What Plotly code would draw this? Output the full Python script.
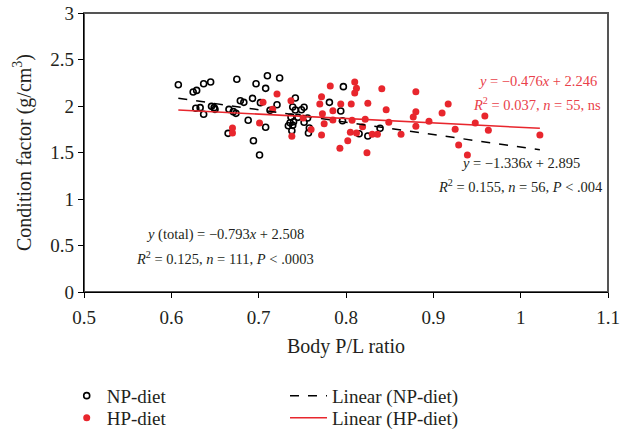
import plotly.graph_objects as go

# NP-diet (open black circles)
np_x = [0.608, 0.625, 0.629, 0.637, 0.645, 0.628, 0.633, 0.637, 0.646, 0.649, 0.650,
        0.675, 0.666, 0.671, 0.674, 0.679, 0.683, 0.665, 0.688, 0.693, 0.697, 0.710,
        0.724, 0.708, 0.702, 0.694, 0.701, 0.708, 0.713, 0.721, 0.742, 0.739, 0.742,
        0.749, 0.752, 0.737, 0.745, 0.756, 0.736, 0.740, 0.734, 0.739, 0.752, 0.738,
        0.757, 0.758, 0.797, 0.781, 0.794, 0.796, 0.815, 0.825, 0.839]
np_y = [2.229, 2.151, 2.168, 2.240, 2.258, 1.975, 1.982, 1.911, 1.996, 1.982, 1.964,
        2.287, 1.964, 1.939, 1.921, 2.057, 2.039, 1.706, 1.846, 2.082, 2.240, 2.326,
        2.301, 2.190, 2.036, 1.627, 1.473, 1.771, 1.953, 2.014, 2.086, 1.989, 1.957,
        1.960, 1.986, 1.882, 1.878, 1.871, 1.820, 1.831, 1.788, 1.792, 1.825, 1.734,
        1.710, 1.763, 2.208, 2.039, 1.946, 1.842, 1.702, 1.677, 1.760]

# HP-diet (filled red circles)
hp_x = [0.705, 0.721, 0.737, 0.716, 0.701, 0.670, 0.670, 0.738, 0.751, 0.760,
        0.782, 0.772, 0.770, 0.773, 0.775, 0.772, 0.785, 0.785, 0.794, 0.806,
        0.810, 0.812, 0.810, 0.825, 0.807, 0.822, 0.819, 0.805, 0.812, 0.802,
        0.793, 0.824, 0.830, 0.836, 0.841, 0.846, 0.849, 0.863, 0.880, 0.880,
        0.877, 0.880, 0.895, 0.910, 0.917, 0.925, 0.929, 0.939, 0.948, 0.959,
        0.963, 1.022]
hp_y = [2.040, 2.129, 2.057, 1.964, 1.817, 1.763, 1.710, 1.674, 1.871, 1.746,
        2.215, 2.100, 2.022, 1.918, 1.810, 1.688, 1.950, 1.849, 2.022, 2.022,
        2.258, 2.190, 2.140, 2.029, 1.846, 1.857, 1.778, 1.717, 1.710, 1.627,
        1.545, 1.498, 1.696, 1.696, 2.186, 1.960, 1.824, 1.696, 2.154, 1.939,
        1.882, 1.781, 1.835, 1.925, 2.022, 1.749, 1.581, 1.473, 1.817, 1.892,
        1.738, 1.688]

# Fitted linear trend coefficients (from the chart's equations)
np_fit = [-1.336, 2.895]
hp_fit = [-0.476, 2.246]
fit_x = [0.608, 1.022]

x_ticks = [0.5, 0.6, 0.7, 0.8, 0.9, 1, 1.1]
x_tick_labels = ["0.5", "0.6", "0.7", "0.8", "0.9", "1", "1.1"]
y_ticks = [0, 0.5, 1, 1.5, 2, 2.5, 3]
y_tick_labels = ["0", "0.5", "1", "1.5", "2", "2.5", "3"]

RED = "#e8262d"
RED_TXT = "#e9414a"
TXT = "#231f20"
FONT = "Liberation Serif"

fig = go.Figure()
fig.add_trace(go.Scatter(x=np_x, y=np_y, mode="markers", name="NP-diet",
                         marker=dict(symbol="circle-open", size=6, color="black",
                                     line=dict(width=1.6, color="black")),
                         legend="legend"))
fig.add_trace(go.Scatter(x=hp_x, y=hp_y, mode="markers", name="HP-diet",
                         marker=dict(symbol="circle", size=7, color=RED),
                         legend="legend2"))
fig.add_trace(go.Scatter(x=fit_x, y=[np_fit[0] * v + np_fit[1] for v in fit_x],
                         mode="lines", name="Linear (NP-diet)",
                         line=dict(color="black", width=1.5, dash="dash"),
                         legend="legend3"))
fig.add_trace(go.Scatter(x=fit_x, y=[hp_fit[0] * v + hp_fit[1] for v in fit_x],
                         mode="lines", name="Linear (HP-diet)",
                         line=dict(color=RED, width=1.5),
                         legend="legend4"))

ann_font = dict(family=FONT, size=14.5)
anns = [
    (1.019, 2.27, "<i>y</i> = −0.476<i>x</i> + 2.246", RED_TXT),
    (1.019, 2.02, "<i>R</i><sup>2</sup> = 0.037, <i>n</i> = 55, ns", RED_TXT),
    (1.000, 1.39, "<i>y</i> = −1.336<i>x</i> + 2.895", TXT),
    (1.000, 1.14, "<i>R</i><sup>2</sup> = 0.155, <i>n</i> = 56, <i>P</i> < .004", TXT),
    (0.6615, 0.613, "<i>y</i> (total) = −0.793<i>x</i> + 2.508", TXT),
    (0.6615, 0.366, "<i>R</i><sup>2</sup> = 0.125, <i>n</i> = 111, <i>P</i> < .0003", TXT),
]
for ax, ay, t, c in anns:
    fig.add_annotation(x=ax, y=ay, xref="x", yref="y", text=t, showarrow=False,
                       xanchor="center", yanchor="middle",
                       font=dict(color=c, **ann_font))

# gray frame (top/right), black axes drawn over left/bottom
fig.add_shape(type="rect", xref="paper", yref="paper", x0=0, y0=0, x1=1, y1=1,
              line=dict(color="#555555", width=2), layer="below")

leg_font = dict(size=19, family=FONT, color=TXT)


def leg(x, y, iw=30):
    return dict(x=x, y=y, xanchor="left", yanchor="middle", orientation="v",
                bgcolor="rgba(0,0,0,0)", font=leg_font, tracegroupgap=0,
                itemwidth=iw)


fig.update_layout(
    width=628, height=435,
    margin=dict(l=84, r=20, t=13, b=143, autoexpand=False),
    paper_bgcolor="white", plot_bgcolor="white",
    font=dict(family=FONT, color=TXT, size=18),
    showlegend=True,
    xaxis=dict(range=[0.5, 1.1], tickvals=x_ticks, ticktext=x_tick_labels,
               showgrid=False, zeroline=False, showline=True, linecolor="black",
               linewidth=1.2, ticks="outside", ticklen=5, tickcolor="black",
               ticklabelstandoff=3,
               tickfont=dict(size=19, family=FONT, color=TXT),
               title=dict(text="Body P/L ratio", font=dict(size=20, family=FONT, color=TXT),
                          standoff=12)),
    yaxis=dict(range=[0, 3], tickvals=y_ticks, ticktext=y_tick_labels,
               showgrid=False, zeroline=False, showline=True, linecolor="black",
               linewidth=1.2, ticks="outside", ticklen=5, tickcolor="black",
               tickfont=dict(size=19, family=FONT, color=TXT),
               title=dict(text="Condition factor (g/cm<sup>3</sup>)",
                          font=dict(size=20, family=FONT, color=TXT), standoff=13)),
    legend=leg(-0.033, -0.372),
    legend2=leg(-0.033, -0.451),
    legend3=leg(0.3836, -0.372, 37),
    legend4=leg(0.3836, -0.451, 37),
)

fig.write_html("out.html")
